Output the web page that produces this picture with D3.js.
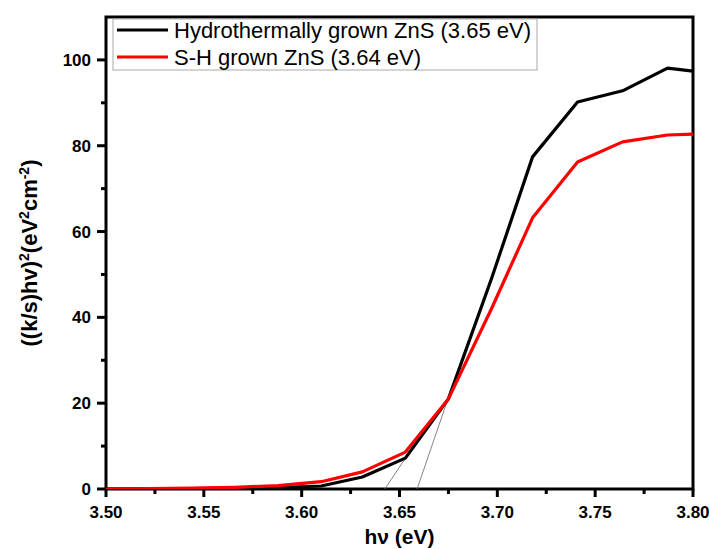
<!DOCTYPE html>
<html><head><meta charset="utf-8">
<script src="https://cdn.jsdelivr.net/npm/d3@7"></script>
<style>
html,body{margin:0;padding:0;background:#fff;}
svg{display:block;font-family:"Liberation Sans",Arial,sans-serif;}
</style></head>
<body><svg id="c" width="710" height="549"></svg>
<script>
const energy = [3.500, 3.522, 3.544, 3.566, 3.588, 3.610, 3.631, 3.653, 3.675, 3.697, 3.718, 3.741, 3.764, 3.787, 3.800];
const hydro  = [0, 0.05, 0.1, 0.2, 0.35, 0.7, 2.8, 7.2, 21.0, 49.0, 77.4, 90.2, 92.8, 98.1, 97.4];
const shGrown = [0, 0.1, 0.2, 0.4, 0.8, 1.7, 4.0, 8.6, 21.0, 42.0, 63.2, 76.2, 80.9, 82.5, 82.7];
const seriesNames = ["Hydrothermally grown ZnS (3.65 eV)", "S-H grown ZnS (3.64 eV)"];
const seriesColors = ["#000000", "#ff0000"];
const xTicks = [3.50, 3.55, 3.60, 3.65, 3.70, 3.75, 3.80];
const yTicks = [0, 20, 40, 60, 80, 100];
const tangentA = [[3.6425, 0], [3.6535, 7.5]];
const tangentB = [[3.659, 0], [3.677, 24]];

const svg = d3.select("#c");
const L = 106, R = 693, T = 17, B = 489;
const x = d3.scaleLinear().domain([3.50, 3.80]).range([L, R]);
const y = d3.scaleLinear().domain([0, 110]).range([B, T]);

// frame
svg.append("rect").attr("x", L).attr("y", T).attr("width", R - L).attr("height", B - T)
  .attr("fill", "none").attr("stroke", "#000").attr("stroke-width", 3);

// minor ticks
const xMinor = d3.range(0, 13).map(i => 3.50 + i * 0.025).filter(v => !xTicks.some(t => Math.abs(t - v) < 1e-6));
const yMinor = d3.range(10, 110, 20);
const xAxis = svg.append("g").attr("transform", `translate(0,${B})`);
xAxis.selectAll("line.mj").data(xTicks).join("line")
  .attr("x1", d => x(d)).attr("x2", d => x(d)).attr("y1", 0).attr("y2", 8)
  .attr("stroke", "#000").attr("stroke-width", 3);
xAxis.selectAll("line.mn").data(xMinor).enter().append("line")
  .attr("x1", d => x(d)).attr("x2", d => x(d)).attr("y1", 0).attr("y2", 5)
  .attr("stroke", "#000").attr("stroke-width", 3);
xAxis.selectAll("text").data(xTicks).join("text")
  .attr("x", d => x(d)).attr("y", 29).attr("text-anchor", "middle")
  .attr("font-size", 17).attr("font-weight", "bold").text(d => d3.format(".2f")(d));

const yAxis = svg.append("g").attr("transform", `translate(${L},0)`);
yAxis.selectAll("line.mj").data(yTicks).join("line")
  .attr("x1", -9).attr("x2", 0).attr("y1", d => y(d)).attr("y2", d => y(d))
  .attr("stroke", "#000").attr("stroke-width", 3);
yAxis.selectAll("line.mn").data(yMinor).enter().append("line")
  .attr("x1", -5).attr("x2", 0).attr("y1", d => y(d)).attr("y2", d => y(d))
  .attr("stroke", "#000").attr("stroke-width", 3);
yAxis.selectAll("text").data(yTicks).join("text")
  .attr("x", -15).attr("y", d => y(d)).attr("dy", "0.36em").attr("text-anchor", "end")
  .attr("font-size", 17).attr("font-weight", "bold").text(d => d);

// titles
svg.append("text").attr("x", (L + R) / 2).attr("y", 544).attr("text-anchor", "middle")
  .attr("font-size", 21).attr("font-weight", "bold").text("hν (eV)");
const yt = svg.append("text").attr("transform", `translate(37,${(T + B) / 2}) rotate(-90)`)
  .attr("text-anchor", "middle").attr("font-size", 22).attr("font-weight", "bold");
yt.append("tspan").text("((k/s)hv)");
yt.append("tspan").attr("font-size", 14).attr("dy", -8).text("2");
yt.append("tspan").attr("dy", 8).text("(eV");
yt.append("tspan").attr("font-size", 14).attr("dy", -8).text("2");
yt.append("tspan").attr("dy", 8).text("cm");
yt.append("tspan").attr("font-size", 14).attr("dy", -8).text("-2");
yt.append("tspan").attr("dy", 8).text(")");

// tangent lines
const tl = d3.line().x(d => x(d[0])).y(d => y(d[1]));
[tangentA, tangentB].forEach(t => {
  svg.append("path").attr("d", tl(t)).attr("fill", "none").attr("stroke", "#777").attr("stroke-width", 0.9);
});

// curves
svg.append("clipPath").attr("id", "clip").append("rect")
  .attr("x", L).attr("y", T).attr("width", R - L).attr("height", B - T);
const line = d3.line().x(d => x(d[0])).y(d => y(d[1]));
[hydro, shGrown].forEach((s, i) => {
  svg.append("path").attr("clip-path", "url(#clip)")
    .attr("d", line(energy.map((e, j) => [e, s[j]])))
    .attr("fill", "none").attr("stroke", seriesColors[i]).attr("stroke-width", 3.2)
    .attr("stroke-linejoin", "round");
});

// legend
const lg = svg.append("g");
lg.append("rect").attr("x", 113).attr("y", 19).attr("width", 424).attr("height", 51)
  .attr("fill", "#fff").attr("stroke", "#aaa").attr("stroke-width", 1);
seriesNames.forEach((n, i) => {
  const yy = 30 + i * 27;
  lg.append("line").attr("x1", 117).attr("x2", 168).attr("y1", yy).attr("y2", yy)
    .attr("stroke", seriesColors[i]).attr("stroke-width", 3.2);
  lg.append("text").attr("x", 174).attr("y", yy + 8).attr("font-size", 22).text(n);
});
</script></body></html>
